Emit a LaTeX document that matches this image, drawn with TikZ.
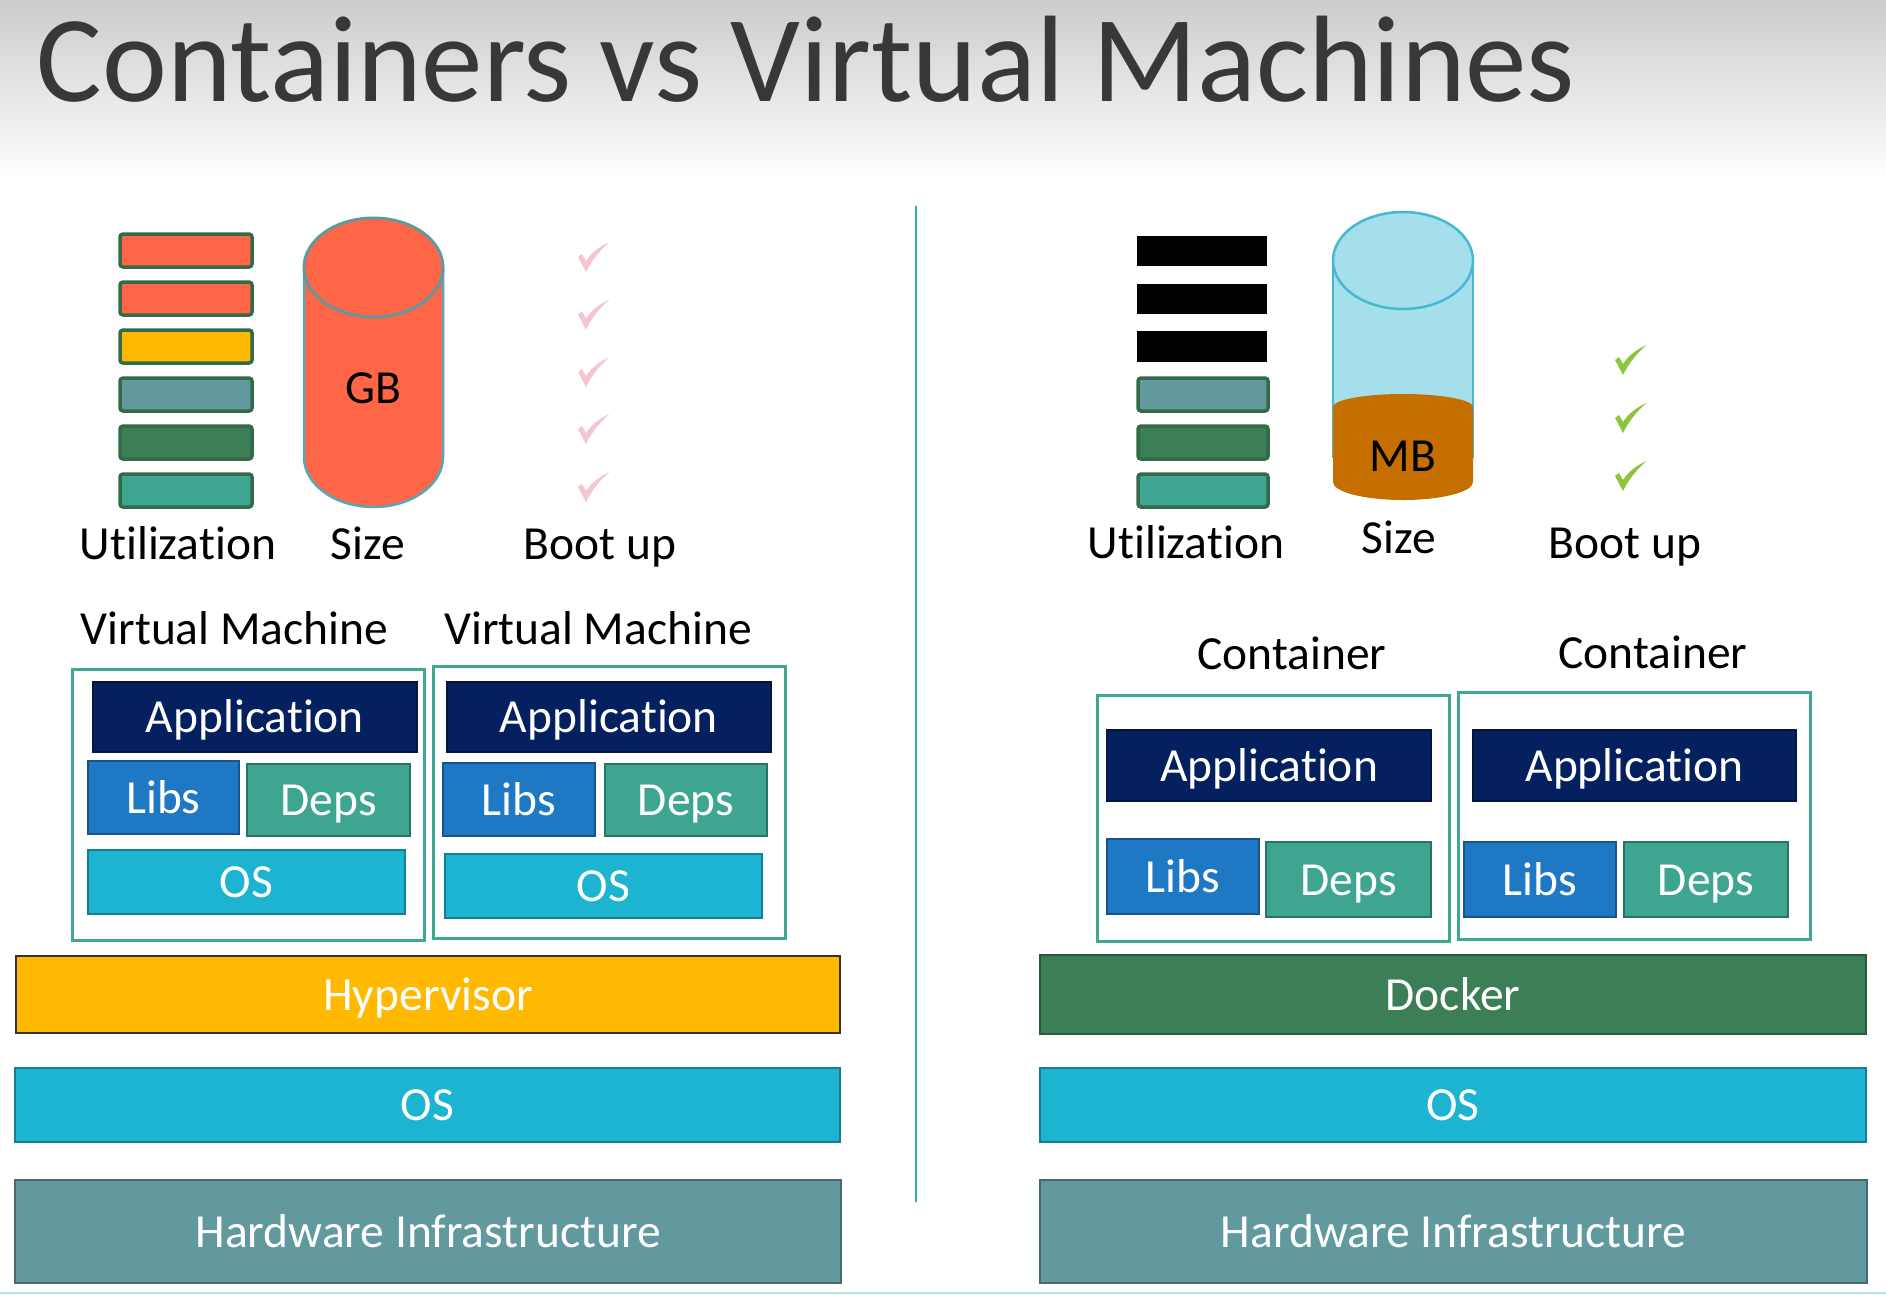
\documentclass[tikz,border=0pt]{standalone}
\usepackage{fontspec}
\setmainfont[Ligatures=NoCommon]{Carlito}
\definecolor{navy}{HTML}{04205F}
\definecolor{libblue}{HTML}{1F78C4}
\definecolor{depgreen}{HTML}{3DA590}
\definecolor{cyanos}{HTML}{1CB4D1}
\definecolor{amber}{HTML}{FFB900}
\definecolor{forest}{HTML}{3C7E55}
\definecolor{hwteal}{HTML}{62999E}
\definecolor{coral}{HTML}{FF6647}
\definecolor{palecyan}{HTML}{A5DFEC}
\definecolor{cylline}{HTML}{45B8D2}
\definecolor{brownfill}{HTML}{C46F00}
\definecolor{frameg}{HTML}{3FA893}
\definecolor{pinkchk}{HTML}{F3C6D0}
\definecolor{greenchk}{HTML}{8CC63F}
\newcommand{\lab}{\fontsize{47.5}{50}\selectfont}
\tikzset{
 x=1pt,y=-1pt,
 lbl/.style={inner sep=0pt,anchor=base,font=\lab,text=black,yshift=-1.3pt},
 tilelbl/.style={inner sep=0pt,anchor=base,font=\lab,text=white,yshift=-1.3pt},
 vmframe/.style={draw=frameg,line width=3pt},
 utilbar/.style={rounded corners=3pt,line width=3.5pt},
}
\newcommand{\tiletext}[7]{\path[draw=#6!70!black,fill=#6,line width=2pt] (#1,#2) rectangle (#3,#4);
 \node[tilelbl] (#5) at ({(#1+#3)/2},{(#2+#4)/2+14.5}) {#7};}
\newcommand{\chk}[3]{\fill[#3,shift={(#1,#2)}] (0,15) -- (4,12) -- (8,19) .. controls (13,11) and (22,4) .. (31.5,0) .. controls (22,8) and (14,18) .. (8,30) -- cycle;}
\begin{document}
\begin{tikzpicture}
\useasboundingbox (0,0) rectangle (1886,1294);
\fill[white] (0,0) rectangle (1886,1294);
\shade[top color=black!20,bottom color=white] (0,0) rectangle (1886,180);
\node[inner sep=0pt,anchor=base,text=black!78,font=\fontsize{123}{128}\selectfont] (title) at (806,101) {Containers vs Virtual Machines};

% divider
\coordinate (divt) at (916,206);
\coordinate (divb) at (916,1202);
\draw[color=depgreen!50!cyanos,line width=2.5pt] (divt) -- (divb);

% left utilization
\foreach \n/\ya/\yb/\c in {a/234/267/coral,b/282/315/coral,c/330/363/amber,d/378/411/hwteal,e/426/459/forest,f/474/507/depgreen}{
 \draw[utilbar,draw=forest!85!black,fill=\c] (120,\ya) rectangle (252,\yb);
}
% left cylinder
\draw[fill=coral,draw=cylline!70!gray,line width=2.5pt] (304,267.5) -- (304,457) arc[start angle=180,end angle=0,x radius=69.5,y radius=50] -- (443,267.5);
\draw[fill=coral,draw=hwteal,line width=3pt] (373.5,267.5) ellipse[x radius=69.5,y radius=49.5];
\node[lbl] (gb) at (373,402) {GB};
\foreach \y in {242,299.5,357,414,472}{\chk{578}{\y}{pinkchk}}
\node[lbl] (u1) at (178,558) {Utilization};
\node[lbl] (s1) at (368,558) {Size};
\node[lbl] (b1) at (600,558) {Boot up};

% right utilization
\foreach \ya/\yb in {236/266,284/314,331/362}{\fill[black] (1137,\ya) rectangle (1267,\yb);}
\foreach \ya/\yb/\c in {378/411/hwteal,426/459/forest,474/507/depgreen}{
 \draw[utilbar,draw=forest!85!black,fill=\c] (1138,\ya) rectangle (1268,\yb);
}
% right cylinder
\draw[fill=palecyan,draw=cylline,line width=2.5pt] (1333,260.5) -- (1333,457) -- (1473,457) -- (1473,260.5);
\draw[fill=palecyan,draw=cylline,line width=2.5pt] (1403,260.5) ellipse[x radius=70,y radius=48.5];
\fill[brownfill] (1333,407) arc[start angle=180,end angle=360,x radius=70,y radius=13] -- (1473,482) arc[start angle=0,end angle=180,x radius=70,y radius=18] -- cycle;
\node[lbl] (mb) at (1403,470) {MB};
\foreach \y in {345,403,461}{\chk{1615}{\y}{greenchk}}
\node[lbl] (u2) at (1186,557) {Utilization};
\node[lbl] (s2) at (1399,552) {Size};
\node[lbl] (b2) at (1625,557) {Boot up};

% VM
\node[lbl] (vm1) at (234.5,643) {Virtual Machine};
\node[lbl] (vm2) at (598,643) {Virtual Machine};
\draw[vmframe] (72,669) rectangle (424,940);
\draw[vmframe] (433,666) rectangle (785,938);
\tiletext{93}{682}{417}{752}{a1}{navy}{Application}
\tiletext{447}{682}{771}{752}{a2}{navy}{Application}
\tiletext{88}{761}{239}{834}{l1}{libblue}{Libs}
\tiletext{247}{764}{410}{836}{d1}{depgreen}{Deps}
\tiletext{88}{850}{405}{914}{o1}{cyanos}{OS}
\tiletext{443}{763}{595}{836}{l2}{libblue}{Libs}
\tiletext{605}{764}{767}{836}{d2}{depgreen}{Deps}
\tiletext{445}{854}{762}{918}{o2}{cyanos}{OS}
\path[draw=black!80,fill=amber,line width=2.5pt] (16,956) rectangle (840,1033);
\node[tilelbl] (hv) at (428,1009) {Hypervisor};
\tiletext{15}{1068}{840}{1142}{os1}{cyanos}{OS}
\tiletext{15}{1180}{841}{1283}{hw1}{hwteal}{Hardware Infrastructure}

% containers
\node[lbl] (c1) at (1292,668) {Container};
\node[lbl] (c2) at (1653,667) {Container};
\draw[vmframe] (1097,695) rectangle (1449,941);
\draw[vmframe] (1458,692) rectangle (1810,939);
\tiletext{1107}{730}{1431}{801}{a3}{navy}{Application}
\tiletext{1473}{730}{1796}{801}{a4}{navy}{Application}
\tiletext{1107}{839}{1259}{914}{l3}{libblue}{Libs}
\tiletext{1266}{842}{1431}{917}{d3}{depgreen}{Deps}
\tiletext{1464}{842}{1616}{917}{l4}{libblue}{Libs}
\tiletext{1624}{842}{1788}{917}{d4}{depgreen}{Deps}
\tiletext{1040}{955}{1866}{1034}{dk}{forest}{Docker}
\tiletext{1040}{1068}{1866}{1142}{os2}{cyanos}{OS}
\tiletext{1040}{1180}{1867}{1283}{hw2}{hwteal}{Hardware Infrastructure}
\fill[cyanos!35] (0,1292) rectangle (1886,1294);
\end{tikzpicture}
\end{document}
